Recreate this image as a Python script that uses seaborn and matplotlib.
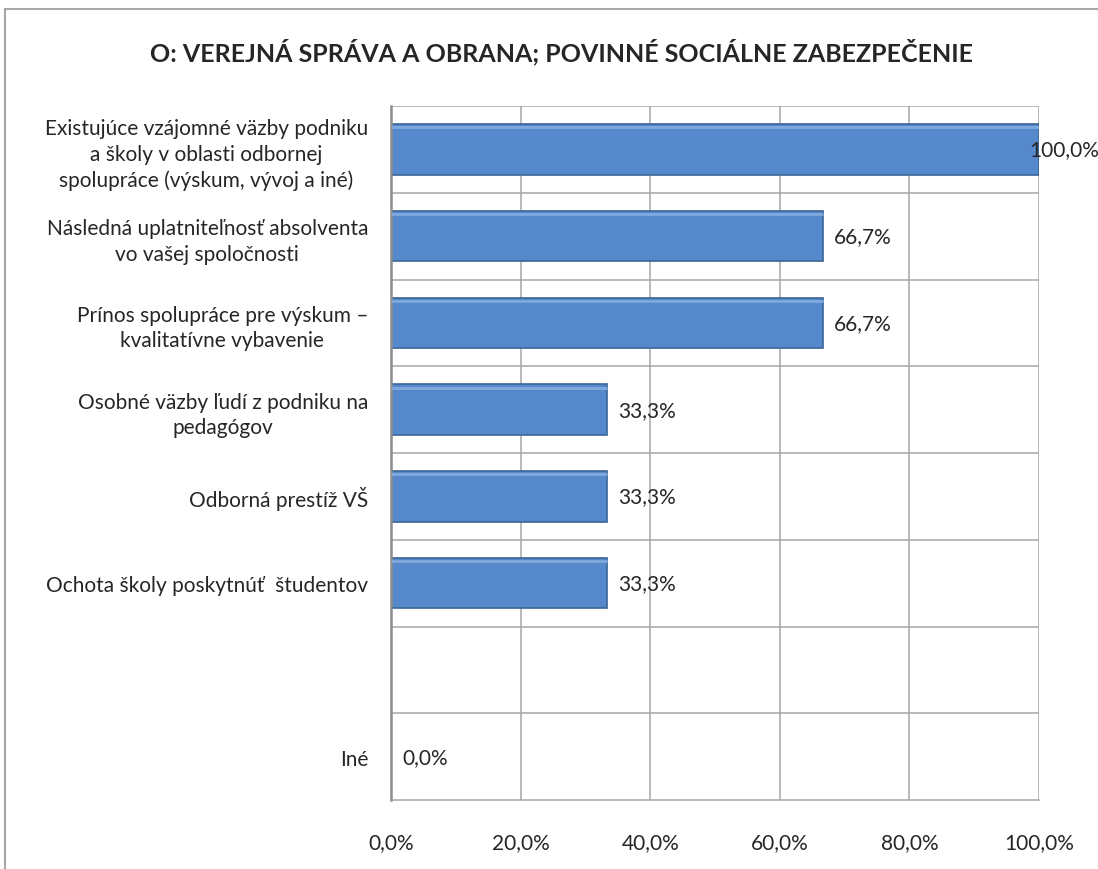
import numpy as np
import pandas as pd
import matplotlib
matplotlib.use('Agg')
import matplotlib.pyplot as plt
import seaborn as sns

# Dáta z grafu
kategorie = [
    'Existujúce vzájomné väzby podniku\na školy v oblasti odbornej\nspolupráce (výskum, vývoj a iné)',
    'Následná uplatniteľnosť absolventa\nvo vašej spoločnosti',
    'Prínos spolupráce pre výskum –\nkvalitatívne vybavenie',
    'Osobné väzby ľudí z podniku na\npedagógov',
    'Odborná prestíž VŠ',
    'Ochota školy poskytnúť  študentov',
    ' ',
    'Iné',
]
hodnoty = [100.0, 66.7, 66.7, 33.3, 33.3, 33.3, np.nan, 0.0]
x_ticky = [0, 20, 40, 60, 80, 100]
nadpis = 'O: VEREJNÁ SPRÁVA A OBRANA; POVINNÉ SOCIÁLNE ZABEZPEČENIE'

df = pd.DataFrame({'Kategória': kategorie, 'Hodnota': hodnoty})

sns.set_style('white')
plt.rcParams['font.family'] = ['Lato', 'DejaVu Sans']

fig = plt.figure(figsize=(10.98, 8.7), dpi=100)
ax = fig.add_axes([0.3561, 0.0793, 0.5902, 0.7977])

sns.barplot(data=df, x='Hodnota', y='Kategória', orient='h', ax=ax,
            color='#5589CB', width=0.58, edgecolor='#3B6597', linewidth=1.2,
            saturation=1)

# jemný svetlý okraj navrchu stĺpcov (efekt reliéfu)
for p in ax.patches:
    if p.get_width() > 0:
        x0, y0 = p.get_x(), p.get_y()
        ax.plot([x0, x0 + p.get_width()], [y0 + 0.035, y0 + 0.035],
                color='#80A9DD', lw=2, solid_capstyle='butt', zorder=3)

ax.set_xlim(0, 100)
ax.set_ylim(len(kategorie) - 0.5, -0.5)
ax.set_xticks(x_ticky)
ax.set_xticklabels([f'{t:.1f}%'.replace('.', ',') for t in x_ticky], fontsize=15)
ax.set_yticks(range(len(kategorie)))
ax.set_yticklabels(kategorie, fontsize=15, multialignment='center',
                   linespacing=1.35)
ax.tick_params(axis='both', length=0)
ax.tick_params(axis='x', pad=23)
ax.tick_params(axis='y', pad=16.5)
ax.set_xlabel('')
ax.set_ylabel('')

# mriežka
for t in x_ticky[1:]:
    ax.axvline(t, color='#A6A6A6', lw=1.1, zorder=0)
for b in np.arange(0.5, len(kategorie) - 0.5, 1):
    ax.axhline(b, color='#A6A6A6', lw=1.1, zorder=0)
ax.axhline(-0.5, color='#A6A6A6', lw=1.1, zorder=0)
for s in ['top', 'right']:
    ax.spines[s].set_visible(False)
ax.spines['left'].set_color('#8C8C8C')
ax.spines['left'].set_linewidth(1.8)
ax.spines['bottom'].set_color('#A6A6A6')
ax.spines['bottom'].set_linewidth(1.1)

# popisky hodnôt
for i, v in enumerate(hodnoty):
    if np.isnan(v):
        continue
    off = -7 if v >= 100 else 8
    ax.annotate(f'{v:.1f}%'.replace('.', ','), (v, i), xytext=(off, 0),
                textcoords='offset points', va='center', ha='left',
                fontsize=15, annotation_clip=False, zorder=5)

fig.text(0.511, 0.940, nadpis, ha='center', va='center', fontsize=18,
         fontweight='bold')

# rámik grafu
fig.patches.append(plt.Rectangle((5 / 1098, -0.1), 1.2, 0.1 + 1 - 10 / 870,
                                 transform=fig.transFigure, fill=False,
                                 edgecolor='#A6A6A6', lw=1.5))

plt.savefig('out.png', dpi=100)
